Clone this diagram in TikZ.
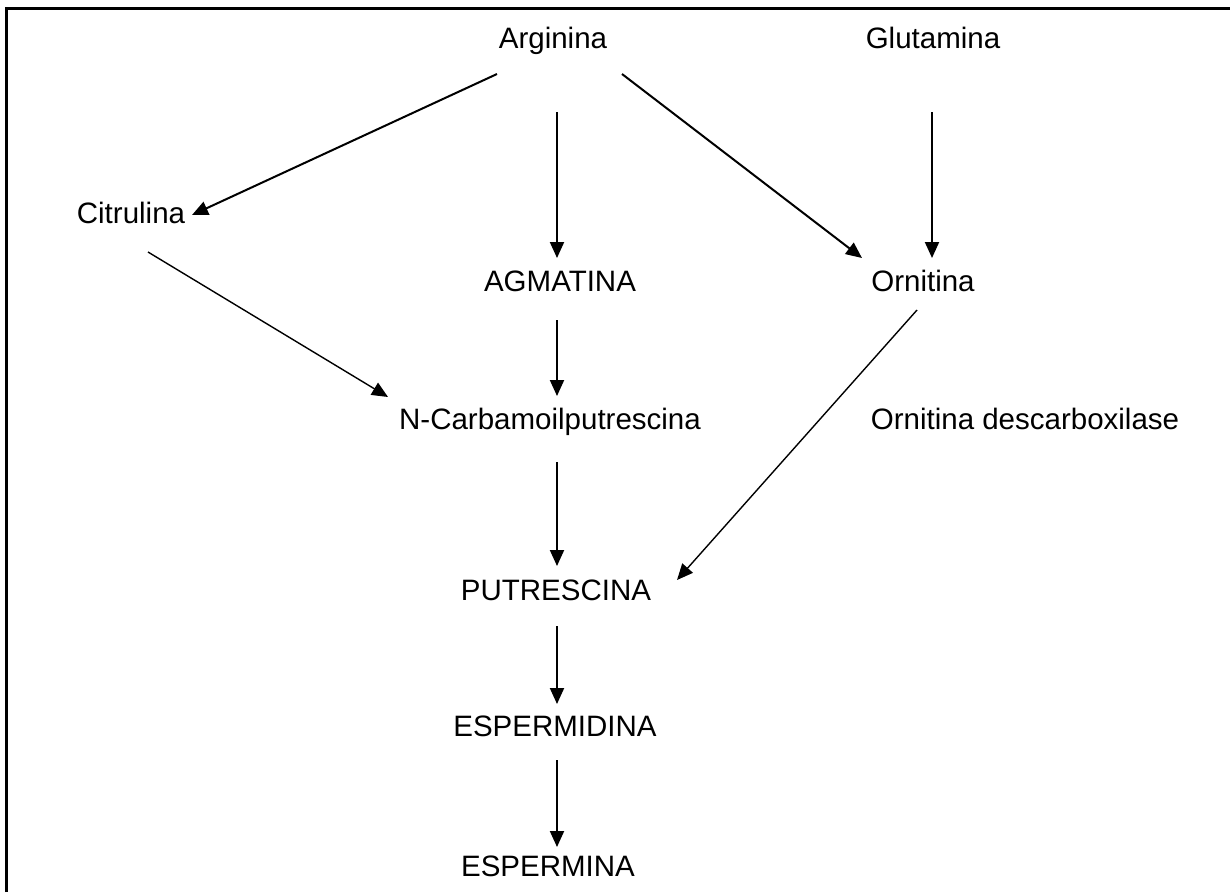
\documentclass[tikz,border=0pt]{standalone}
\usepackage{fontspec}
\setmainfont{Liberation Sans}
\usetikzlibrary{arrows.meta,calc}
\begin{document}
\begin{tikzpicture}[x=1pt,y=-1pt,
  lbl/.style={inner sep=0pt, text height=21pt, text depth=0pt,
              font=\fontsize{29.5}{34}\selectfont},
  arr/.style={line width=2pt, -{Triangle[length=16pt,width=14pt]}},
  thinarr/.style={line width=1.4pt, -{Triangle[length=16pt,width=14pt]}},
  frame/.style={line width=3pt}]
\useasboundingbox (0,0) rectangle (1230,892);
% page frame (top and left edges)
\draw[frame] (6,892) -- (6,8) -- (1230,8);

% compounds
\node[lbl] (arg)   at (553,38)  {Arginina};
\node[lbl] (glu)   at (933,38)  {Glutamina};
\node[lbl] (cit)   at (131,213) {Citrulina};
\node[lbl] (agm)   at (560,281) {AGMATINA};
\node[lbl] (orn)   at (923,281) {Ornitina};
\node[lbl] (ncarb) at (550,419) {N-Carbamoilputrescina};
\node[lbl] (odc)   at (1025,419) {Ornitina descarboxilase};
\node[lbl] (put)   at (556,590) {PUTRESCINA};
\node[lbl] (spd)   at (555,726) {ESPERMIDINA};
\node[lbl] (spm)   at (548,866) {ESPERMINA};

% reactions
\draw[arr] ($(arg)+(-56,36)$) -- ($(cit)+(61,2)$);
\draw[arr] ($(arg)+(4,74)$) -- ($(agm)+(-3,-23)$);
\draw[arr] ($(arg)+(69,36)$) -- ($(orn)+(-61,-23)$);
\draw[arr] ($(glu)+(-1,74)$) -- ($(orn)+(9,-23)$);
\draw[thinarr] ($(cit)+(17,39)$) -- ($(ncarb)+(-162,-22)$);
\draw[arr] ($(agm)+(-3,39)$) -- ($(ncarb)+(7,-23)$);
\draw[arr] ($(ncarb)+(7,43)$) -- ($(put)+(1,-24)$);
\draw[thinarr] ($(orn)+(-6,29)$) -- ($(put)+(121,-10)$);
\draw[arr] ($(put)+(1,36)$) -- ($(spd)+(2,-22)$);
\draw[arr] ($(spd)+(2,34)$) -- ($(spm)+(9,-19)$);
\end{tikzpicture}
\end{document}
